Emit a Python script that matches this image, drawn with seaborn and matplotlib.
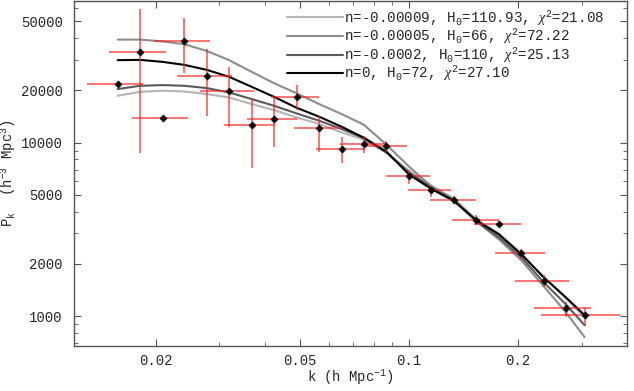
import numpy as np
import pandas as pd
import seaborn as sns
import matplotlib.pyplot as plt
from matplotlib.ticker import FixedLocator, FixedFormatter, LogLocator, NullFormatter

# k bins (h/Mpc) and measured power spectrum
k = [0.01571, 0.01812, 0.0209, 0.02399, 0.02765, 0.0319, 0.0368, 0.04239, 0.04897,
     0.05652, 0.06517, 0.07507, 0.0867, 0.1001, 0.1154, 0.1331, 0.1536, 0.1772,
     0.2043, 0.2355, 0.271, 0.3055]
pk = [21740, 33480, 13920, 38730, 24370, 19820, 12640, 13680, 18380, 12190, 9237,
      9829, 9573, 6403, 5320, 4642, 3594, 3409, 2311, 1604, 1107, 1013]
pk_lo = [21740, 8727, 13920, 25140, 14160, 12360, 7150, 9485, 15410, 8876, 7645,
         8726, 8797, 5790, 4850, 4404, 3334, 3262, 2147, 1473, 991, 879]
pk_hi = [21740, 58700, 13920, 52000, 34540, 27320, 18070, 18200, 21530, 14290, 10830,
         10870, 10270, 6970, 5660, 4958, 3806, 3530, 2449, 1721, 1208, 1107]
k_lo = [0.01291, 0.01489, 0.01724, 0.01982, 0.02294, 0.02649, 0.03086, 0.03577, 0.0415,
        0.04821, 0.0555, 0.06446, 0.07553, 0.0863, 0.09945, 0.1141, 0.1315, 0.151,
        0.1725, 0.1967, 0.2214, 0.231]
k_hi = [0.01849, 0.02131, 0.0246, 0.02823, 0.03241, 0.03733, 0.04266, 0.04895, 0.05651,
        0.06556, 0.0755, 0.08578, 0.09884, 0.1141, 0.1308, 0.1529, 0.1772, 0.2043,
        0.2369, 0.2761, 0.3187, 0.3814]

# model curves evaluated at the same k
model_a = [18630, 19640, 19910, 19720, 19060, 18210, 16690, 15410, 13980, 12810, 11460,
           10400, 8761, 6906, 5660, 4768, 3609, 2999, 2302, 1675, 1269, 987]
model_b = [39250, 39250, 38310, 36920, 33800, 29880, 25590, 22030, 19250, 16690, 14620,
           12690, 9739, 7277, 5587, 4703, 3516, 2770, 2099, 1487, 1054, 757]
model_c = [20360, 21270, 21460, 21270, 20630, 19460, 17830, 16320, 14740, 13380, 11990,
           10610, 8761, 6723, 5512, 4642, 3516, 2844, 2183, 1568, 1172, 887]
model_d = [29880, 29990, 29210, 28070, 26280, 23950, 20980, 18380, 15890, 14110, 12360,
           10680, 8877, 6548, 5405, 4611, 3563, 2959, 2271, 1675, 1285, 1013]

labels = [r"n=-0.00009, $\mathrm{H_0}$=110.93, $\chi^2$=21.08",
          r"n=-0.00005, $\mathrm{H_0}$=66, $\chi^2$=72.22",
          r"n=-0.0002, $\mathrm{H_0}$=110, $\chi^2$=25.13",
          r"n=0, $\mathrm{H_0}$=72, $\chi^2$=27.10"]
colors = ["#b4b4b4", "#8c8c8c", "#5a5a5a", "#000000"]

sns.set_style("ticks")
plt.rcParams["font.family"] = ["Liberation Mono", "DejaVu Sans"]
plt.rcParams["mathtext.fontset"] = "custom"
plt.rcParams["mathtext.rm"] = "Liberation Mono"
plt.rcParams["mathtext.it"] = "Liberation Serif:italic"

fig = plt.figure(figsize=(6.34, 3.91), dpi=100)
ax = fig.add_axes([0.1167, 0.1151, 0.8723, 0.8823])

for y, lab, c in zip([model_a, model_b, model_c, model_d], labels, colors):
    df = pd.DataFrame({"k": k, "P": y})
    sns.lineplot(data=df, x="k", y="P", ax=ax, color=c, lw=1.5, label=lab)

kk = np.array(k)
pp = np.array(pk)
ax.errorbar(kk, pp, xerr=[kk - np.array(k_lo), np.array(k_hi) - kk],
            yerr=[pp - np.array(pk_lo), np.array(pk_hi) - pp],
            fmt="none", ecolor="#ff2020", elinewidth=1.1, alpha=0.8, capsize=0, zorder=3)
sns.scatterplot(x=k, y=pk, ax=ax, color="black", marker="D", s=14, edgecolor="black",
                zorder=4, legend=False)

ax.set_xscale("log")
ax.set_yscale("log")
ax.set_xlim(0.0119, 0.4)
ax.set_ylim(673, 65500)

xt = [0.02, 0.05, 0.1, 0.2]
ax.xaxis.set_major_locator(FixedLocator(xt))
ax.xaxis.set_major_formatter(FixedFormatter(["0.02", "0.05", "0.1", "0.2"]))
ax.xaxis.set_minor_locator(FixedLocator([0.03, 0.04, 0.06, 0.07, 0.08, 0.09, 0.3, 0.4]))
ax.xaxis.set_minor_formatter(NullFormatter())
yt = [1000, 2000, 5000, 10000, 20000, 50000]
ax.yaxis.set_major_locator(FixedLocator(yt))
ax.yaxis.set_major_formatter(FixedFormatter([str(v) for v in yt]))
ax.yaxis.set_minor_locator(LogLocator(base=10, subs=np.arange(2, 10)))
ax.yaxis.set_minor_formatter(NullFormatter())

for s in ax.spines.values():
    s.set_color("#555555")
    s.set_linewidth(1.0)
ax.tick_params(which="both", direction="in", top=True, right=True, color="#555555",
               labelsize=10, pad=8)
ax.tick_params(axis="x", which="both", pad=6)
ax.tick_params(which="major", length=5)
ax.tick_params(which="minor", length=3)

ax.set_xlabel(r"k (h Mpc$^{-1}$)", fontsize=10, labelpad=0)
ax.set_ylabel(r"$\mathrm{P_k}$  (h$^{-3}$ Mpc$^3$)", fontsize=10, labelpad=2)

ax.legend(loc="upper left", bbox_to_anchor=(0.385, 0.978), frameon=False, fontsize=10.3,
          handlelength=3.9, handletextpad=0.1, labelspacing=-0.02, borderpad=0,
          borderaxespad=0)

fig.savefig("out.png", dpi=100)
